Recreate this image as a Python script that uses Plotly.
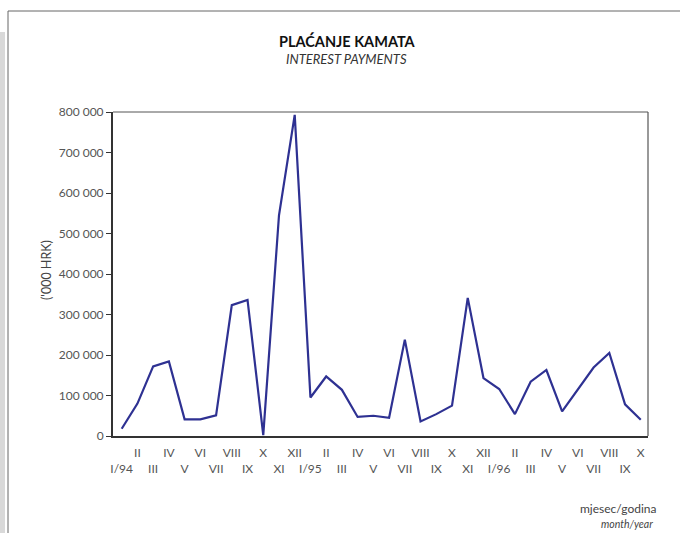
import plotly.graph_objects as go

months = ["I/94", "II", "III", "IV", "V", "VI", "VII", "VIII", "IX", "X", "XI", "XII",
          "I/95", "II", "III", "IV", "V", "VI", "VII", "VIII", "IX", "X", "XI", "XII",
          "I/96", "II", "III", "IV", "V", "VI", "VII", "VIII", "IX", "X"]
payments = [18000, 80000, 172000, 184000, 41000, 41000, 51000, 323000, 336000, 2000,
            545000, 793000, 95000, 147000, 114000, 47000, 50000, 45000, 238000, 36000,
            54000, 75000, 341000, 143000, 116000, 54000, 134000, 163000, 61000, 116000,
            169000, 205000, 78000, 40000]
y_ticks = [0, 100000, 200000, 300000, 400000, 500000, 600000, 700000, 800000]
y_tick_text = ["0", "100 000", "200 000", "300 000", "400 000", "500 000",
               "600 000", "700 000", "800 000"]

x_pos = list(range(len(months)))
tick_text = [m if i % 2 == 1 else "<br>" + m for i, m in enumerate(months)]

FONT = "Lato, 'Open Sans', sans-serif"
W, H = 680, 533
L, R, T, B = 113, 648, 112, 436

fig = go.Figure()
fig.add_trace(go.Scatter(x=x_pos, y=payments, mode="lines",
                         line=dict(color="#2E3192", width=2.2),
                         hoverinfo="skip", showlegend=False))

def px(x):
    return (x - L) / (R - L)

def py(y):
    return (B - y) / (B - T)

shapes = [
    dict(type="line", xref="paper", yref="paper", x0=0, x1=1, y0=1, y1=1,
         line=dict(color="#555", width=1)),
    dict(type="line", xref="paper", yref="paper", x0=1, x1=1, y0=0, y1=1,
         line=dict(color="#555", width=1.2)),
    dict(type="line", xref="paper", yref="paper", x0=px(8), x1=px(682), y0=py(11), y1=py(11),
         line=dict(color="#666", width=1)),
    dict(type="line", xref="paper", yref="paper", x0=px(8), x1=px(8), y0=py(11), y1=py(540),
         line=dict(color="#666", width=1)),
    dict(type="rect", xref="paper", yref="paper", x0=px(-2), x1=px(5), y0=py(32), y1=py(540),
         line=dict(width=0), fillcolor="#d9d9d9", layer="below"),
]

annotations = [
    dict(text="<b>PLAĆANJE KAMATA</b>", x=px(347), y=py(41), xref="paper", yref="paper",
         showarrow=False, font=dict(family=FONT, size=14.5, color="#111"),
         xanchor="center", yanchor="middle"),
    dict(text="<i>INTEREST PAYMENTS</i>", x=px(346), y=py(59), xref="paper", yref="paper",
         showarrow=False, font=dict(family=FONT, size=13, color="#333"),
         xanchor="center", yanchor="middle"),
    dict(text="('000 HRK)", x=px(46), y=py(270), xref="paper", yref="paper",
         showarrow=False, textangle=-90, font=dict(family=FONT, size=12.5, color="#444"),
         xanchor="center", yanchor="middle"),
    dict(text="mjesec/godina", x=px(659), y=py(508), xref="paper", yref="paper",
         showarrow=False, font=dict(family=FONT, size=12, color="#444"),
         xanchor="right", yanchor="middle"),
    dict(text="<i>month/year</i>", x=px(655), y=py(524), xref="paper", yref="paper",
         showarrow=False, font=dict(family=FONT, size=10.5, color="#444"),
         xanchor="right", yanchor="middle"),
]

fig.update_layout(
    width=W, height=H,
    margin=dict(l=L, r=W - R, t=T, b=H - B, pad=0),
    paper_bgcolor="white", plot_bgcolor="white",
    font=dict(family=FONT, size=12, color="#444"),
    shapes=shapes, annotations=annotations,
    xaxis=dict(range=[-0.553, 33.46], tickvals=x_pos, ticktext=tick_text, tickangle=0,
               showgrid=False, zeroline=False, showline=True, linecolor="#333",
               linewidth=2, ticks="", tickfont=dict(family=FONT, size=12, color="#555"),
               ticklabelstandoff=5, fixedrange=True),
    yaxis=dict(range=[0, 800000], tickvals=y_ticks, ticktext=y_tick_text,
               showgrid=False, zeroline=False, showline=True, linecolor="#333",
               linewidth=2, ticks="outside", ticklen=5, tickcolor="#333", tickwidth=1.2,
               tickfont=dict(family=FONT, size=12, color="#555"), fixedrange=True),
)

fig.write_html("out.html", config=dict(displayModeBar=False),
               post_script="document.body.style.margin='0';document.body.style.padding='0';")
